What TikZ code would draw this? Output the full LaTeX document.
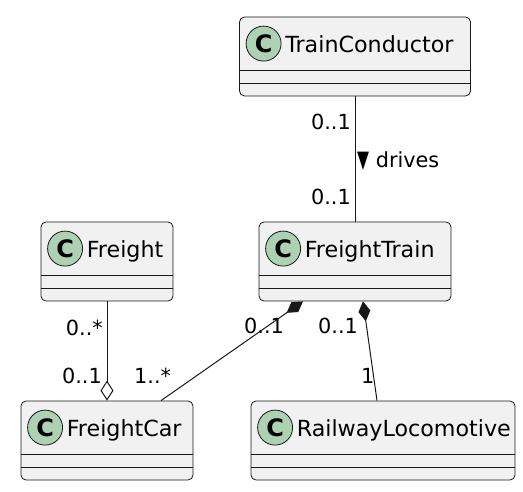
\documentclass[tikz,border=0pt]{standalone}
\usepackage{fontspec}
\setmainfont{DejaVu Sans}
\usetikzlibrary{arrows.meta}
\definecolor{umlline}{HTML}{181818}
\definecolor{umlfill}{HTML}{F1F1F1}
\definecolor{umlbadge}{HTML}{ADD1B2}
\tikzset{
  classbox/.style={draw=umlline, fill=umlfill, line width=0.8pt, rounded corners=5pt,
    minimum height=79pt, inner sep=0pt,
    path picture={\draw[umlline, line width=0.8pt]
      ([yshift=26pt]path picture bounding box.south west) -- ([yshift=26pt]path picture bounding box.south east)
      ([yshift=13pt]path picture bounding box.south west) -- ([yshift=13pt]path picture bounding box.south east);}},
  badge/.style={circle, draw=umlline, fill=umlbadge, line width=0.8pt, minimum size=35pt,
    inner sep=0pt, font=\fontsize{24}{24}\selectfont\bfseries},
  classname/.style={anchor=base west, inner sep=0pt, font=\fontsize{22.2}{26}\selectfont},
  mult/.style={inner sep=0pt, font=\fontsize{20.8}{24}\selectfont},
  assoc/.style={draw=umlline, line width=1pt},
}
\begin{document}
\begin{tikzpicture}[x=1pt,y=-1pt]
\useasboundingbox (0,0) rectangle (523,492);

\node[classbox, minimum width=231pt] (tc) at (355,56.5) {};
\node[badge] (tcC) at ([xshift=24.5pt, yshift=-27pt]tc.north west) {C};
\node[classname] (tcN) at ([xshift=46pt, yshift=-36pt]tc.north west) {TrainConductor};

\node[classbox, minimum width=192pt] (ft) at (355,261.5) {};
\node[badge] (ftC) at ([xshift=24.5pt, yshift=-27pt]ft.north west) {C};
\node[classname] (ftN) at ([xshift=46pt, yshift=-36pt]ft.north west) {FreightTrain};

\node[classbox, minimum width=132pt] (fr) at (107,261.5) {};
\node[badge] (frC) at ([xshift=24.5pt, yshift=-27pt]fr.north west) {C};
\node[classname] (frN) at ([xshift=46pt, yshift=-36pt]fr.north west) {Freight};

\node[classbox, minimum width=172pt] (fc) at (107,440.5) {};
\node[badge] (fcC) at ([xshift=24.5pt, yshift=-27pt]fc.north west) {C};
\node[classname] (fcN) at ([xshift=46pt, yshift=-36pt]fc.north west) {FreightCar};

\node[classbox, minimum width=264pt] (rl) at (383,440.5) {};
\node[badge] (rlC) at ([xshift=24.5pt, yshift=-27pt]rl.north west) {C};
\node[classname] (rlN) at ([xshift=46pt, yshift=-36pt]rl.north west) {RailwayLocomotive};

\draw[assoc] (tc.south) -- (ft.north);
\draw[assoc, -{Diamond[open, fill=white, length=20pt, width=13pt]}] (fr.south) -- (fc.north);
\draw[assoc, {Diamond[length=20pt, width=12pt]}-] ([xshift=-52pt]ft.south) -- ([xshift=54pt]fc.north);
\draw[assoc, {Diamond[length=20pt, width=12pt]}-] ([xshift=8pt]ft.south) -- ([xshift=-6pt]rl.north);

\node[mult, anchor=base east] (tcA) at (351,130) {0..1};
\node[mult, anchor=base east] (ftA) at (351,205) {0..1};
\node[mult, anchor=base west] (drv) at (357,168) {\scalebox{0.75}[1.15]{▼} drives};
\node[mult, anchor=base east] (frA) at (103,335) {0..*};
\node[mult, anchor=base east] (fcA) at (102,384) {0..1};
\node[mult, anchor=base west] (fcB) at (134,384) {1..*};
\node[mult, anchor=base west] (ftB) at (244,334) {0..1};
\node[mult, anchor=base west] (ftD) at (318,334) {0..1};
\node[mult, anchor=base west] (rlA) at (361,383) {1};
\end{tikzpicture}
\end{document}
